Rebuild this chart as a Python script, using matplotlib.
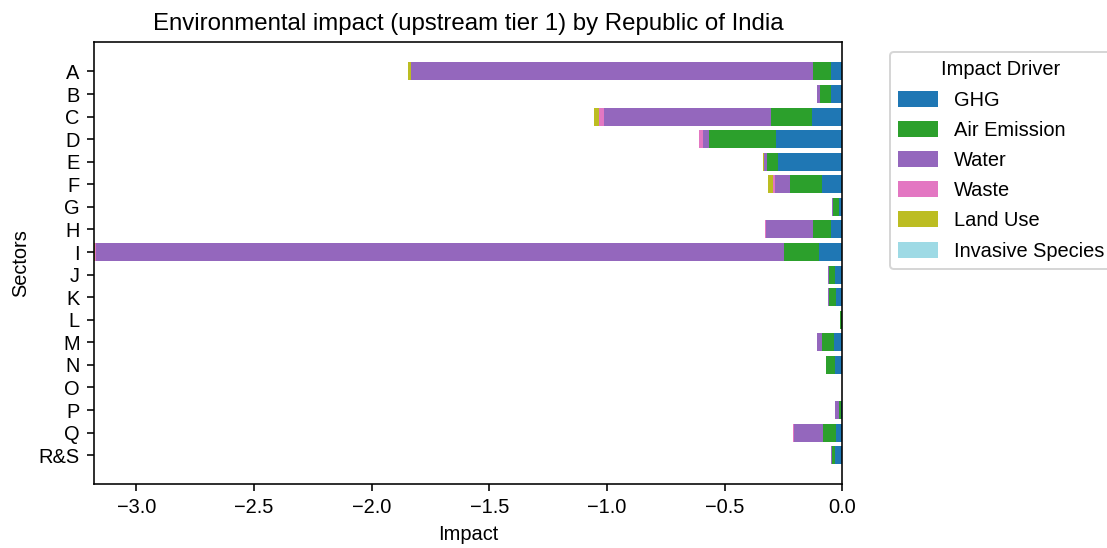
import numpy as np
import matplotlib
matplotlib.use('Agg')
from matplotlib import pyplot as plt

plt.rcParams['font.family'] = ['Liberation Sans', 'DejaVu Sans']

sectors = ['A', 'B', 'C', 'D', 'E', 'F', 'G', 'H', 'I', 'J', 'K', 'L', 'M', 'N', 'O', 'P', 'Q', 'R&S']
drivers = ['GHG', 'Air Emission', 'Water', 'Waste', 'Land Use', 'Invasive Species']

# impact values per driver (negative = damage), one value per sector
ghg      = [-0.050, -0.050, -0.129, -0.283, -0.272, -0.087, -0.013, -0.050, -0.098, -0.030, -0.026, -0.001, -0.037, -0.030, 0.0, -0.007, -0.026, -0.031]
air      = [-0.074, -0.044, -0.174, -0.283, -0.048, -0.137, -0.026, -0.074, -0.148, -0.026, -0.030, -0.007, -0.050, -0.038, 0.0, -0.006, -0.055, -0.011]
water    = [-1.707, -0.012, -0.711, -0.028, -0.013, -0.061, -0.006, -0.202, -2.925, -0.003, -0.006, 0.0, -0.019, -0.002, 0.0, -0.018, -0.124, -0.006]
waste    = [-0.002, 0.0, -0.018, -0.015, -0.001, -0.008, 0.0, -0.001, -0.004, 0.0, 0.0, 0.0, -0.001, 0.0, 0.0, 0.0, -0.004, 0.0]
land_use = [-0.013, -0.001, -0.024, -0.002, -0.001, -0.021, 0.0, -0.001, -0.006, 0.0, 0.0, 0.0, 0.0, 0.0, 0.0, 0.0, -0.001, 0.0]
invasive = [0.0] * len(sectors)

series = [ghg, air, water, waste, land_use, invasive]
colors = plt.get_cmap('tab20')(np.linspace(0, 1, len(drivers)))

fig = plt.figure(figsize=(1107 / 144, 548 / 144), dpi=144)
ax = fig.add_axes([0.0846, 0.1162, 0.6763, 0.8066])

y = np.arange(len(sectors))
left = np.zeros(len(sectors))
for vals, name, col in zip(series, drivers, colors):
    vals = np.array(vals)
    ax.barh(y, vals, left=left, color=col, label=name)
    left = left + vals

ax.set_yticks(y)
ax.set_yticklabels(sectors)
ax.invert_yaxis()
ax.set_xlim(left.min(), 0)
ax.set_xlabel('Impact')
ax.set_ylabel('Sectors')
ax.set_title('Environmental impact (upstream tier 1) by Republic of India')
ax.legend(title='Impact Driver', bbox_to_anchor=(1.05, 1), loc='upper left',
          labelspacing=0.56, handleheight=0.85)

plt.savefig('out.png', dpi=144)
